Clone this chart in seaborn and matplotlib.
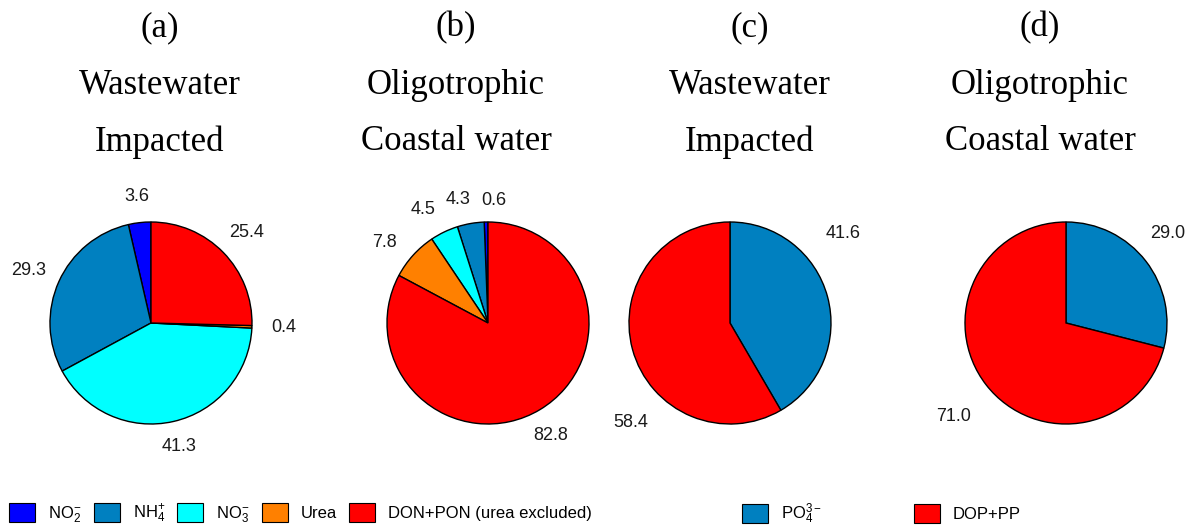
import matplotlib
matplotlib.use("Agg")
import matplotlib.pyplot as plt
from matplotlib.patches import Patch
import numpy as np
import seaborn as sns

# Nitrogen species, in legend order
n_species = [r"NO$_2^{-}$", r"NH$_4^{+}$", r"NO$_3^{-}$", "Urea", "DON+PON (urea excluded)"]
n_wastewater = [3.6, 29.3, 41.3, 0.4, 25.4]
n_oligotrophic = [0.6, 4.3, 4.5, 7.8, 82.8]

# Phosphorus species, in legend order
p_species = [r"PO$_4^{3-}$", "DOP+PP"]
p_wastewater = [41.6, 58.4]
p_oligotrophic = [29.0, 71.0]

panel_tags = ["(a)", "(b)", "(c)", "(d)"]
panel_lines = [["Wastewater", "Impacted"],
               ["Oligotrophic", "Coastal water"],
               ["Wastewater", "Impacted"],
               ["Oligotrophic", "Coastal water"]]

n_colors = ["#0000FF", "#0080C0", "#00FFFF", "#FF8000", "#FF0000"]
p_colors = ["#0080C0", "#FF0000"]

sns.set_theme(style="white")
plt.rcParams["font.family"] = ["Liberation Sans", "DejaVu Sans"]
plt.rcParams["text.color"] = "black"
plt.rcParams["mathtext.fontset"] = "custom"
plt.rcParams["mathtext.rm"] = "Liberation Sans"
plt.rcParams["mathtext.it"] = "Liberation Sans:italic"
plt.rcParams["mathtext.bf"] = "Liberation Sans:bold"

W, H = 1195, 529
fig = plt.figure(figsize=(W / 100, H / 100), dpi=100)
fig.patch.set_facecolor("white")

# pie centres in pixels (x from left, y from top) and title column centres
pie_cx = [151, 488, 730, 1066]
pie_cy = 323
title_cx = [160, 456, 750, 1040]
box = 300  # axes box in pixels, limits +-1.5 -> 100 px per unit

# small per-label shifts (data units) so numbers sit clear of each other
nudges = [
    [(0.0, 0.0), (-0.07, 0.0), (0.0, 0.0), (0.06, 0.0), (0.05, 0.02)],
    [(0.08, -0.04), (-0.08, -0.02), (-0.10, -0.01), (-0.09, -0.05), (-0.03, -0.04)],
    [(-0.09, 0.56), (0.23, -0.66)],
    [(0.01, 0.12), (-0.12, -0.16)],
]

panels = [
    (n_wastewater, n_colors, True),
    (n_oligotrophic, n_colors, True),
    (p_wastewater, p_colors, False),
    (p_oligotrophic, p_colors, False),
]

serif = ["Liberation Serif", "DejaVu Serif"]

for i, (vals, cols, ccw) in enumerate(panels):
    left = (pie_cx[i] - box / 2) / W
    bottom = (H - pie_cy - box / 2) / H
    ax = fig.add_axes([left, bottom, box / W, box / H])
    wedges, _ = ax.pie(vals, colors=cols, startangle=90, counterclock=ccw,
                       radius=1.01,
                       wedgeprops=dict(edgecolor="black", linewidth=1.0))
    for w, v, (dx, dy) in zip(wedges, vals, nudges[i]):
        mid = np.deg2rad((w.theta1 + w.theta2) / 2)
        r = 1.27
        ax.text(r * np.cos(mid) + dx, r * np.sin(mid) + dy, f"{v:.1f}",
                ha="center", va="center", fontsize=13, color="#1a1a1a")
    ax.set_xlim(-1.5, 1.5)
    ax.set_ylim(-1.5, 1.5)
    ax.set_aspect("equal")
    ax.axis("off")

    # stacked panel heading
    fig.text(title_cx[i] / W, 1 - 28 / H, panel_tags[i], ha="center", va="center",
             fontsize=25, family=serif)
    fig.text(title_cx[i] / W, 1 - 86 / H, panel_lines[i][0], ha="center", va="center",
             fontsize=25, family=serif)
    fig.text(title_cx[i] / W, 1 - 142 / H, panel_lines[i][1], ha="center", va="center",
             fontsize=25, family=serif)

# legends
n_handles = [Patch(facecolor=c, edgecolor="black", linewidth=0.8) for c in n_colors]
p_handles = [Patch(facecolor=c, edgecolor="black", linewidth=0.8) for c in p_colors]

leg_kw = dict(frameon=False, fontsize=12, borderpad=0, borderaxespad=0,
              handlelength=1.56, handleheight=1.3, handletextpad=0.78)
leg1 = fig.legend(n_handles, n_species, loc="center left",
                  bbox_to_anchor=(9 / W, 15 / H), ncol=5, columnspacing=0.73, **leg_kw)
leg2 = fig.legend(p_handles, p_species, loc="center left",
                  bbox_to_anchor=(742 / W, 15 / H), ncol=2, columnspacing=5.5, **leg_kw)

fig.savefig("out.png", dpi=100, facecolor="white")
